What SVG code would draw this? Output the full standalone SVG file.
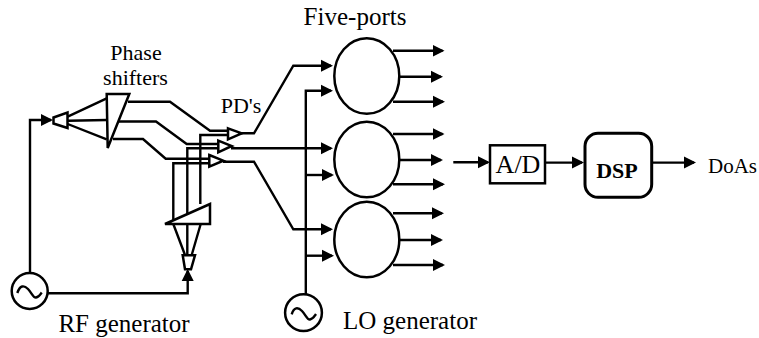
<svg xmlns="http://www.w3.org/2000/svg" width="759" height="338" viewBox="0 0 759 338">
<style>
.w{fill:none;stroke:#000;stroke-width:2.4;stroke-linejoin:miter}
.a{marker-end:url(#ah)}
.s{fill:#fff;stroke:#000;stroke-width:2.5}
.n{fill:none}
.t{font-family:"Liberation Serif","Times New Roman",serif;fill:#000}
.m{text-anchor:middle}
.l{font-size:25px}
.p{font-size:22px}
</style>
<defs><marker id="ah" markerUnits="userSpaceOnUse" markerWidth="14" markerHeight="14" refX="10" refY="6.5" orient="auto"><path d="M0 0.5L12 6.5L0 12.5Z" fill="#000"/></marker></defs>
<rect width="759" height="338" fill="#fff"/>
<g id="connectors">
<path class="w a" d="M30 273V120H51"/>
<path class="w" d="M67.7 116.7L106.7 98.3M67.7 120.7L106.7 120M67.7 124L106.7 139.3"/>
<path class="w" d="M128 101.7H170L210 130.7H228"/>
<path class="w" d="M118 121.5H156L186.7 144H218"/>
<path class="w" d="M113 139H143L165.7 158.7H210"/>
<path class="w" d="M200.3 204V135H228M187.3 224V148.3H218M173.3 224V163.3H209"/>
<path class="w" d="M173.3 224L185 255M187.3 224V255M200.7 224L191.7 255"/>
<path class="w a" d="M48 293.3H187.7V271"/>
<path class="w a" d="M241 133.3H254L293.3 65.7H331"/>
<path class="w a" d="M231 148.3H331"/>
<path class="w a" d="M223 161.7H254L293.3 229.3H331"/>
<path class="w a" d="M305.8 294V90.7H331"/>
<path class="w a" d="M305.8 175H332"/>
<path class="w a" d="M305.8 255.7H332"/>
<path class="w a" d="M393 50.7H442.5"/>
<path class="w a" d="M399 76.7H441"/>
<path class="w a" d="M393 101.7H443"/>
<path class="w a" d="M393 134H442.5"/>
<path class="w a" d="M399 160H441"/>
<path class="w a" d="M393 184.3H443"/>
<path class="w a" d="M393 213.3H442"/>
<path class="w a" d="M399 240H441"/>
<path class="w a" d="M393 265H443"/>
<path class="w a" d="M453.3 162.3H488"/>
<path class="w a" d="M545 162.6H582"/>
<path class="w a" d="M652 162.6H694"/>
</g>
<g id="amp-rf"><path class="s" d="M53.5 117.5L67.5 112.5V128L53.5 123.5Z"/></g>
<g id="phase-shifters-1"><path class="s n" d="M106.7 94H129.3L107.7 148Z"/></g>
<g id="pd-1"><path class="s" d="M228 128.3L241.7 133.3L228 139.3Z"/></g>
<g id="pd-2"><path class="s" d="M218.3 140.7L231.7 146L218.3 152.3Z"/></g>
<g id="pd-3"><path class="s" d="M209.3 155L223.3 160.7L209.3 166.7Z"/></g>
<g id="phase-shifters-2"><path class="s" d="M165 224L210 204V224Z"/></g>
<g id="amp-lo"><path class="s" d="M182.7 255.3H195L191 269.3H185Z"/></g>
<g id="five-port-1"><ellipse class="s" cx="366.8" cy="76" rx="32.5" ry="37.8"/></g>
<g id="five-port-2"><ellipse class="s" cx="366.8" cy="159.5" rx="32.5" ry="37.8"/></g>
<g id="five-port-3"><ellipse class="s" cx="366.8" cy="239.5" rx="32.5" ry="37.8"/></g>
<g id="rf-generator"><circle class="s" cx="29.7" cy="291" r="18"/><path class="w" d="M17.3 293C20 285 24 285 28 289S33 298 36 297.5 40 295 41.7 292.5"/></g>
<g id="lo-generator"><circle class="s" cx="303.5" cy="312.7" r="18.4"/><path class="w" d="M291.7 314.3C294 307 298 307 302 311S307 320 310 319.5 314 317 316 314"/></g>
<g id="ad"><rect class="s" x="490" y="145.3" width="55" height="38"/><text class="t m" x="518" y="173" style="font-size:26px">A/D</text></g>
<g id="dsp"><rect x="585" y="133.3" width="66.7" height="64" rx="13" fill="#fff" stroke="#000" stroke-width="3"/><text class="t m p" x="617" y="178" font-weight="bold">DSP</text></g>
<g id="labels">
<text class="t m l" x="355" y="25">Five-ports</text>
<text class="t m p" x="136" y="60">Phase</text>
<text class="t m p" x="135.5" y="85">shifters</text>
<text class="t m p" x="241" y="113">PD's</text>
<text class="t m l" x="124" y="332">RF generator</text>
<text class="t m l" x="410" y="329">LO generator</text>
<text class="t" x="708" y="173" style="font-size:21px">DoAs</text>
</g>
</svg>
